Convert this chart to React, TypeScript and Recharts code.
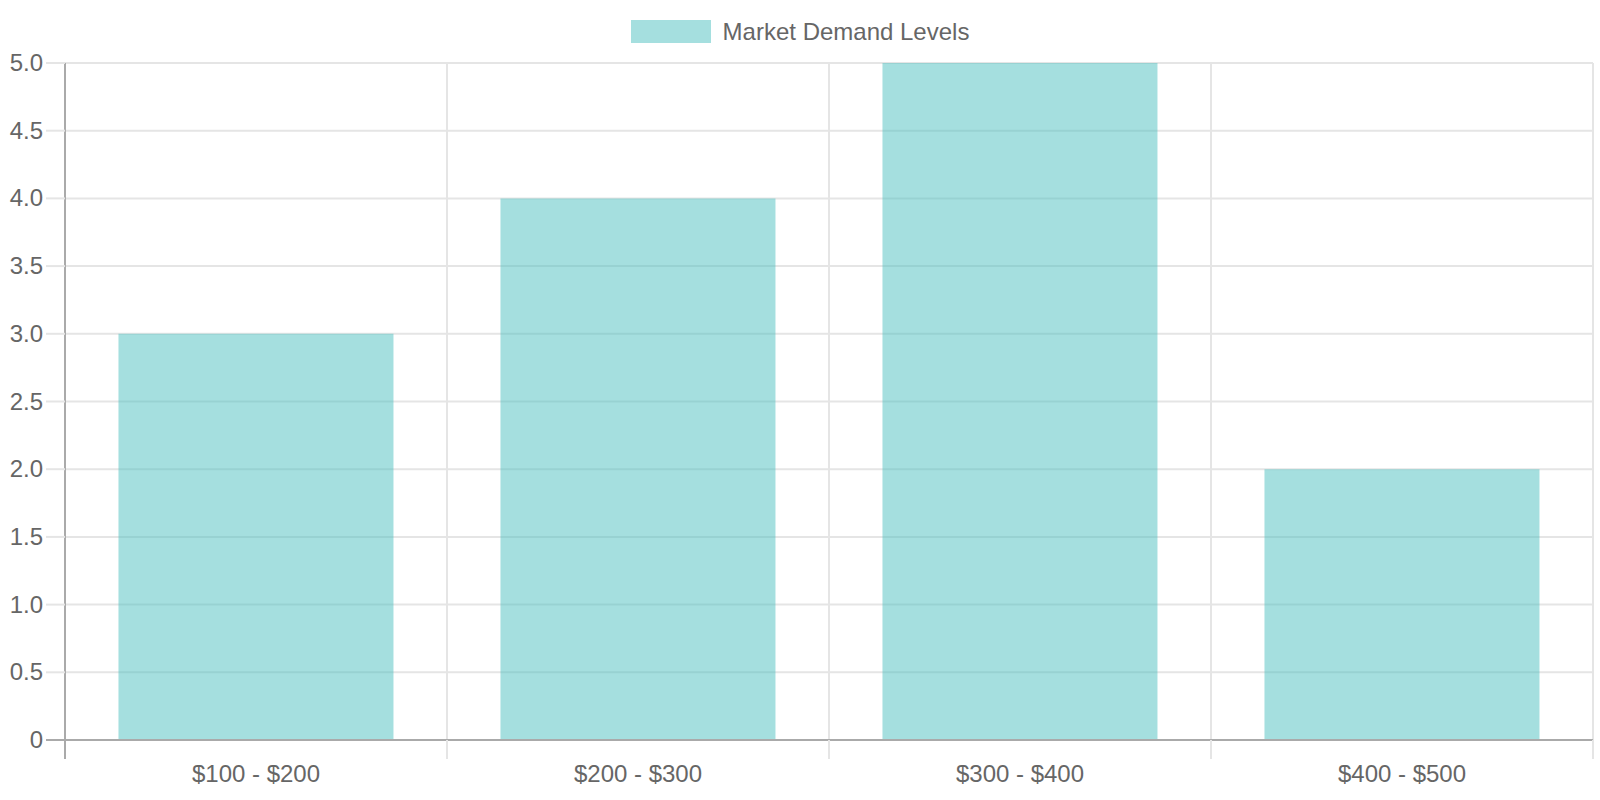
import React from "react";
import { BarChart, Bar, XAxis, YAxis, CartesianGrid, Legend } from "recharts";

const categories = ["$100 - $200", "$200 - $300", "$300 - $400", "$400 - $500"];
const demandLevels = [3, 4, 5, 2];
const yTicks = [0, 0.5, 1, 1.5, 2, 2.5, 3, 3.5, 4, 4.5, 5];
const seriesName = "Market Demand Levels";

const data = categories.map((range, i) => ({ range, demand: demandLevels[i] }));

const W = 1600;
const H = 800;
const Y_AXIS_W = 65;
const RIGHT = 7;
const X_AXIS_H = 60;
const BAND = (W - Y_AXIS_W - RIGHT) / categories.length;
const FONT = "'Liberation Sans', Arial, Helvetica, sans-serif";
const TEXT = "#666";
const GRID = "#e5e5e5";
const AXIS = "#aaaaaa";
const BAR_FILL = "rgba(75, 192, 192, 0.5)";

function YTick({ y, payload }: any) {
  const isZero = payload.value === 0;
  return (
    <g>
      <line x1={Y_AXIS_W - 19} x2={Y_AXIS_W} y1={y} y2={y} stroke={isZero ? AXIS : GRID} strokeWidth={2} />
      <text x={Y_AXIS_W - 22} y={y} dy={8} textAnchor="end" fill={TEXT} fontSize={24} fontFamily={FONT}>
        {isZero ? "0" : Number(payload.value).toFixed(1)}
      </text>
    </g>
  );
}

function XTick({ x, y, payload, index }: any) {
  // recharts hands the label position 8px below the axis line
  const axisY = y - 8;
  const left = x - BAND / 2;
  const isLast = index === categories.length - 1;
  return (
    <g>
      <line x1={left} x2={left} y1={axisY} y2={axisY + 19} stroke={index === 0 ? AXIS : GRID} strokeWidth={2} />
      {isLast && <line x1={left + BAND} x2={left + BAND} y1={axisY} y2={axisY + 19} stroke={GRID} strokeWidth={2} />}
      <text x={x} y={axisY + 42} textAnchor="middle" fill={TEXT} fontSize={24} fontFamily={FONT}>
        {payload.value}
      </text>
    </g>
  );
}

function LegendContent() {
  return (
    <div style={{ height: 63, display: "flex", justifyContent: "center", alignItems: "center", paddingLeft: 7 }}>
      <span style={{ display: "inline-block", width: 80, height: 23, background: BAR_FILL, marginRight: 12, marginTop: -1 }} />
      <span style={{ fontFamily: FONT, fontSize: 24, color: TEXT }}>{seriesName}</span>
    </div>
  );
}

export default function App() {
  return (
    <div style={{ position: "absolute", left: 0, top: 0, width: W, height: H, background: "#fff" }}>
      <BarChart width={W} height={H} data={data} margin={{ top: 0, right: RIGHT, bottom: 0, left: 0 }} barCategoryGap="14%">
        <Legend verticalAlign="top" align="center" content={<LegendContent />} />
        <CartesianGrid
          stroke={GRID}
          strokeWidth={2}
          verticalCoordinatesGenerator={({ offset }: any) =>
            categories.map((_, i) => offset.left + (i * offset.width) / categories.length).concat([offset.left + offset.width])
          }
        />
        <XAxis
          dataKey="range"
          height={X_AXIS_H}
          interval={0}
          tickLine={false}
          axisLine={{ stroke: AXIS, strokeWidth: 2 }}
          tick={<XTick />}
        />
        <YAxis
          width={Y_AXIS_W}
          domain={[0, 5]}
          ticks={yTicks}
          interval={0}
          tickLine={false}
          axisLine={{ stroke: AXIS, strokeWidth: 2 }}
          tick={<YTick />}
        />
        <Bar dataKey="demand" name={seriesName} fill={BAR_FILL} isAnimationActive={false} />
      </BarChart>
    </div>
  );
}
